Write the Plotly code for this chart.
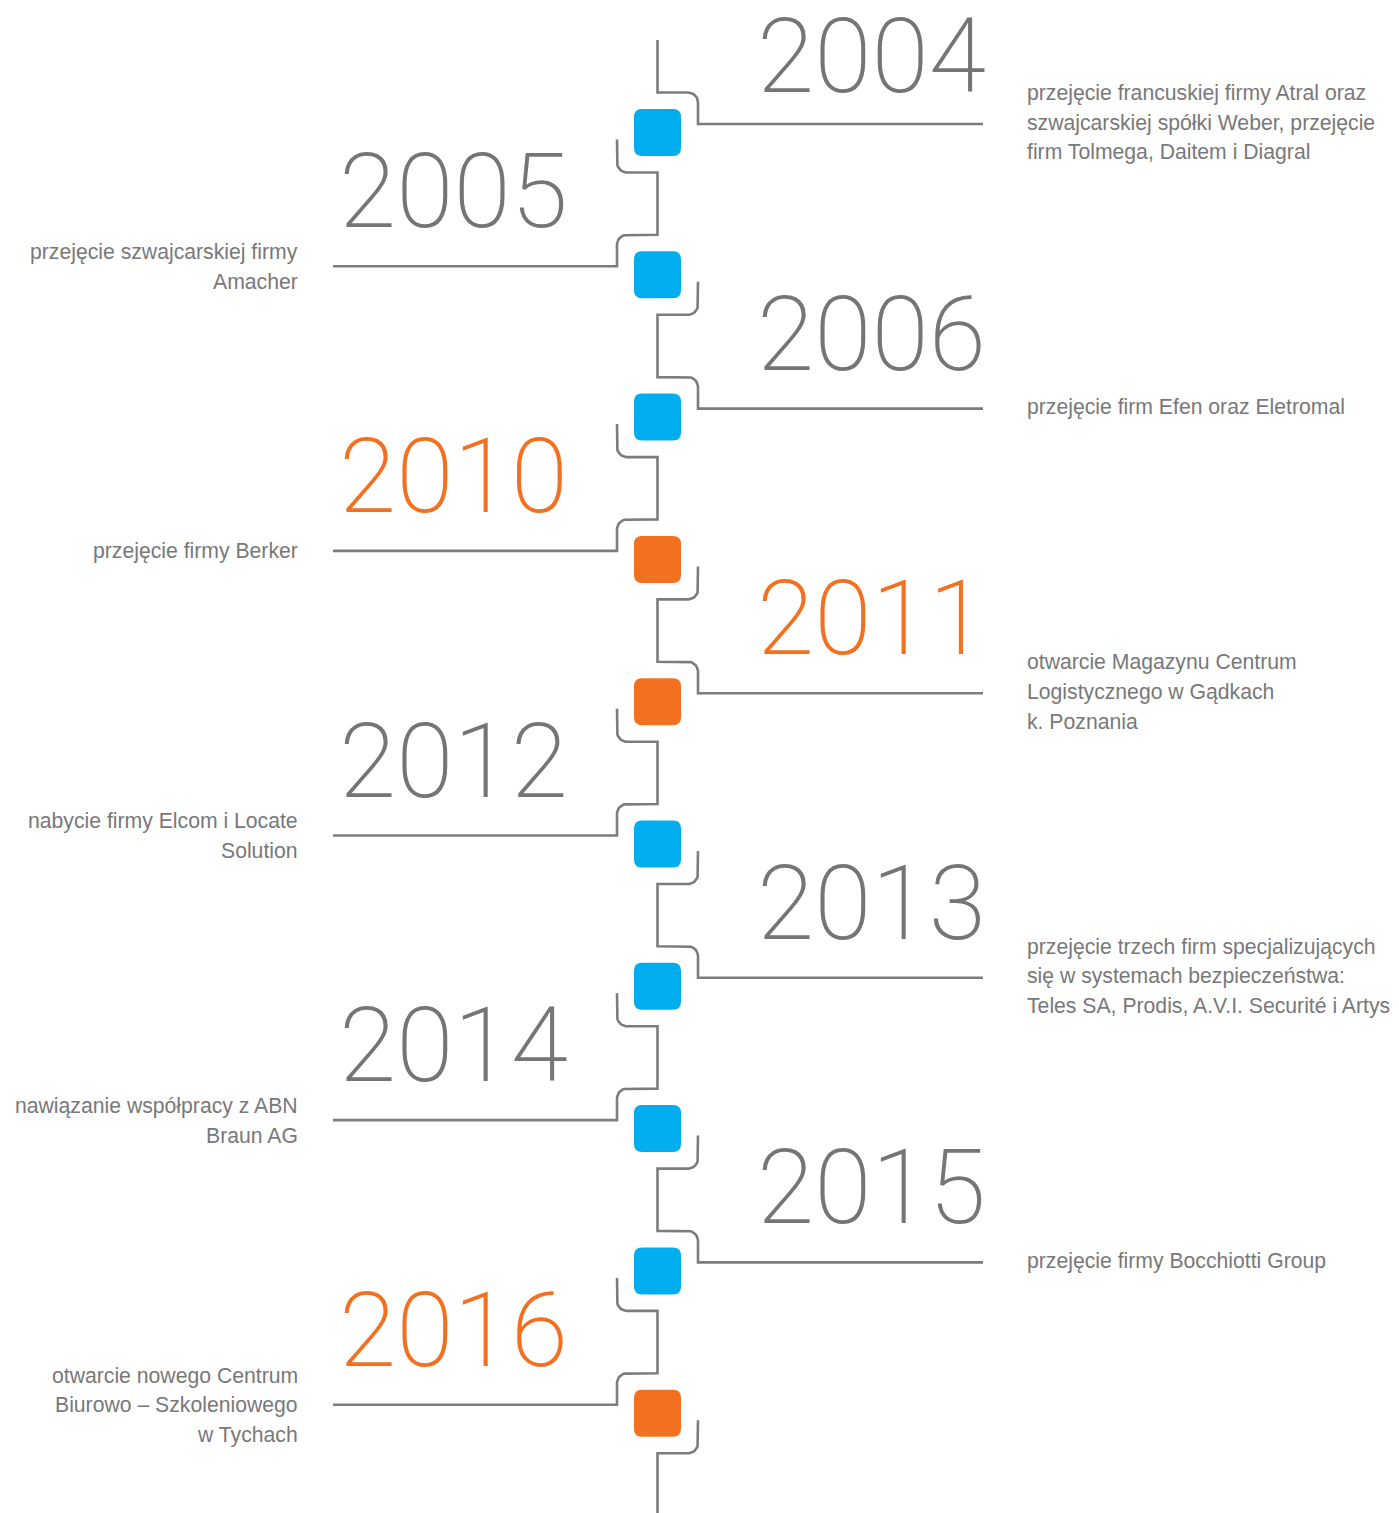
import numpy as np
import plotly.graph_objects as go

# ---- data ----
years = ["2004", "2005", "2006", "2010", "2011", "2012", "2013", "2014", "2015", "2016"]
highlight = [False, False, False, True, True, False, False, False, False, True]
descriptions = [
    "przejęcie francuskiej firmy Atral oraz\nszwajcarskiej spółki Weber, przejęcie\nfirm Tolmega, Daitem i Diagral",
    "przejęcie szwajcarskiej firmy\nAmacher",
    "przejęcie firm Efen oraz Eletromal",
    "przejęcie firmy Berker",
    "otwarcie Magazynu Centrum\nLogistycznego w Gądkach\nk. Poznania",
    "nabycie firmy Elcom i Locate\nSolution",
    "przejęcie trzech firm specjalizujących\nsię w systemach bezpieczeństwa:\nTeles SA, Prodis, A.V.I. Securité i Artys",
    "nawiązanie współpracy z ABN\nBraun AG",
    "przejęcie firmy Bocchiotti Group",
    "otwarcie nowego Centrum\nBiurowo – Szkoleniowego\nw Tychach",
]

# ---- styles / layout constants ----
W, H = 1399, 1513
PAD = 8  # page body margin
GREY_LINE = "#7c7c7e"
GREY_YEAR = "#757577"
GREY_TEXT = "#78787a"
BLUE = "#00aeef"
ORANGE = "#f37021"
XC = 657.5
TOP0 = 132.5
STEP = 142.3
OFF = 40.5
R = 10
HALF = 23.5
RAD = 8
LINE_OFF = 8.5

centers = [TOP0 + i * STEP for i in range(len(years))]
sides = [1 if i % 2 == 0 else -1 for i in range(len(years))]


def top_bracket(c, s):
    xs = XC + s * OFF
    cx, cy = XC + s * (OFF - R), c - 40 + R
    t = np.linspace(0, np.pi / 2, 12)
    ax = cx + s * R * np.sin(t)
    ay = cy - R * np.cos(t)
    xend = 983 if s > 0 else 333
    X = [XC] + list(ax) + [xs, xend]
    Y = [c - 40] + list(ay) + [c - LINE_OFF, c - LINE_OFF]
    return X, Y


def bottom_bracket(c, o):
    xs = XC + o * OFF
    cx, cy = XC + o * (OFF - R), c + 40 - R
    t = np.linspace(0, np.pi / 2, 12)
    ax = cx + o * R * np.cos(t)
    ay = cy + R * np.sin(t)
    X = [xs] + list(ax) + [XC]
    Y = [c + 7] + list(ay) + [c + 40]
    return X, Y


fig = go.Figure()

n = len(years)
for i in range(n + 1):
    X, Y = [], []
    if i == 0:
        X += [XC]
        Y += [40]
    else:
        bx, by = bottom_bracket(centers[i - 1], -sides[i - 1])
        X += bx
        Y += by
    if i < n:
        tx, ty = top_bracket(centers[i], sides[i])
        X += tx
        Y += ty
    else:
        X += [XC]
        Y += [H + 5]
    fig.add_trace(go.Scatter(x=X, y=Y, mode="lines",
                             line=dict(color=GREY_LINE, width=2.6),
                             hoverinfo="skip", showlegend=False))


def rounded_rect(cx, cy, h, r):
    x0, x1, y0, y1 = cx - h, cx + h, cy - h, cy + h
    return (f"M {x0 + r},{y0} L {x1 - r},{y0} Q {x1},{y0} {x1},{y0 + r} "
            f"L {x1},{y1 - r} Q {x1},{y1} {x1 - r},{y1} "
            f"L {x0 + r},{y1} Q {x0},{y1} {x0},{y1 - r} "
            f"L {x0},{y0 + r} Q {x0},{y0} {x0 + r},{y0} Z")


shapes = []
annotations = []
for i, (yr, hl, desc) in enumerate(zip(years, highlight, descriptions)):
    c = centers[i]
    s = sides[i]
    col = ORANGE if hl else BLUE
    shapes.append(dict(type="path", xref="x", yref="y",
                       path=rounded_rect(XC, c, HALF, RAD),
                       fillcolor=col, line=dict(width=0)))
    # year label
    annotations.append(dict(
        x=988 if s > 0 else 570, y=max(c - 83, 56), xref="x", yref="y",
        text=yr, showarrow=False, xanchor="right", yanchor="middle",
        font=dict(family="Roboto", weight=200, size=104,
                  color=ORANGE if hl else GREY_YEAR)))
    # description
    lines = desc.split("\n")
    nl = len(lines)
    mid = c - 10 if s > 0 else c - 8
    for k, ln in enumerate(lines):
        yy = mid + (k - (nl - 1) / 2) * 29.5
        annotations.append(dict(
            x=1025 if s > 0 else 300, y=yy, xref="x", yref="y",
            text=ln, showarrow=False,
            xanchor="left" if s > 0 else "right", yanchor="middle",
            font=dict(family="Liberation Sans", size=21.2, color=GREY_TEXT)))

fig.update_layout(
    width=W - PAD, height=H - PAD,
    margin=dict(l=0, r=0, t=0, b=0),
    paper_bgcolor="white", plot_bgcolor="white",
    xaxis=dict(range=[PAD, W], visible=False, fixedrange=True),
    yaxis=dict(range=[H, PAD], visible=False, fixedrange=True),
    shapes=shapes, annotations=annotations,
    showlegend=False,
)

fig.write_html("out.html")
